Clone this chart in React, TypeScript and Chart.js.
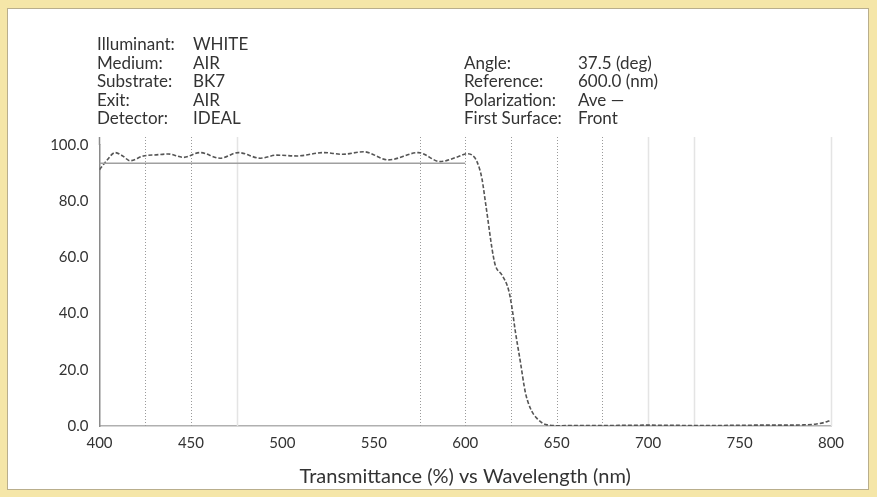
import { useEffect, useRef } from "react";
import { Chart, registerables } from "chart.js";

Chart.register(...registerables);

// ---- data ----
const wavelengths = [
  400, 404, 408.5, 412.5, 416.7, 424, 431, 437.6, 446, 455, 466, 476, 488, 497, 508, 522.5, 533, 544.4,
  558, 574.4, 586.3, 596, 601, 603.7, 606.4, 609.1, 611, 612.8, 614.6, 616.4, 620.1, 623.7, 625.6, 627.4,
  630.1, 632.8, 635.6, 639.2, 644.7, 651, 660, 680, 700, 720, 740, 760, 775, 785, 792, 796, 800,
];
const transmittance = [
  91.2, 94.5, 97.3, 96.2, 94.4, 96.1, 96.5, 96.8, 95.6, 97.3, 95.3, 97.3, 95.3, 96.4, 96.1, 97.3, 96.7, 97.6,
  94.7, 97.3, 94.1, 95.8, 96.9, 96.4, 94.1, 88.1, 79.8, 71.5, 63.2, 57.3, 53.7, 48.4, 41.9, 33.6,
  23.0, 12.2, 6.3, 2.7, 0.4, 0.1, 0.2, 0.2, 0.3, 0.2, 0.2, 0.3, 0.3, 0.4, 0.7, 1.2, 2.1,
];
const specWavelengths = [400, 600];
const specValues = [93.5, 93.5];

const dottedGrid = [425, 450, 575, 600, 625, 650, 675];
const lightGrid = [475, 700, 725, 800];

const xTickMin = 400;
const xTickMax = 800;
const xTickStep = 50;
const yTickMin = 0;
const yTickMax = 100;
const yTickStep = 20;

const xTitle = "Transmittance (%) vs Wavelength (nm)";

const headerLeftKeys = ["Illuminant:", "Medium:", "Substrate:", "Exit:", "Detector:"];
const headerLeftVals = ["WHITE", "AIR", "BK7", "AIR", "IDEAL"];
const headerRightKeys = ["Angle:", "Reference:", "Polarization:", "First Surface:"];
const headerRightVals = ["37.5 (deg)", "600.0 (nm)", "Ave \u2014", "Front"];

const FONT = "Lato, 'Open Sans', sans-serif";
const TEXT = "#333333";

const gridPlugin = {
  id: "wlGrid",
  beforeDatasetsDraw(chart: any) {
    const { ctx, chartArea, scales } = chart;
    const x = scales.x;
    ctx.save();
    const top = chartArea.top - 8;
    const bottom = chartArea.bottom;
    lightGrid.forEach((v) => {
      const px = Math.round(x.getPixelForValue(v)) + 0.5;
      ctx.strokeStyle = "#e4e4e4";
      ctx.lineWidth = 1.5;
      ctx.setLineDash([]);
      ctx.beginPath();
      ctx.moveTo(px, top);
      ctx.lineTo(px, bottom);
      ctx.stroke();
    });
    dottedGrid.forEach((v) => {
      const px = Math.round(x.getPixelForValue(v)) + 0.5;
      ctx.strokeStyle = "#9a9a9a";
      ctx.lineWidth = 1;
      ctx.setLineDash([1, 2]);
      ctx.beginPath();
      ctx.moveTo(px, top);
      ctx.lineTo(px, bottom);
      ctx.stroke();
    });
    // left axis extension above 100
    const lx = chartArea.left;
    ctx.setLineDash([]);
    ctx.strokeStyle = "#8a8a8a";
    ctx.lineWidth = 1.5;
    ctx.beginPath();
    ctx.moveTo(lx, top);
    ctx.lineTo(lx, chartArea.top);
    ctx.stroke();
    ctx.restore();
  },
};

export default function App() {
  const ref = useRef<HTMLCanvasElement>(null);

  useEffect(() => {
    const curve = wavelengths.map((w, i) => ({ x: w, y: transmittance[i] }));
    const spec = specWavelengths.map((w, i) => ({ x: w, y: specValues[i] }));
    const chart = new Chart(ref.current as HTMLCanvasElement, {
      type: "line",
      data: {
        datasets: [
          {
            data: spec,
            borderColor: "#a0a0a0",
            borderWidth: 1.5,
            pointRadius: 0,
            fill: false,
          },
          {
            data: curve,
            borderColor: "#555555",
            borderWidth: 1.6,
            borderDash: [4, 2],
            pointRadius: 0,
            fill: false,
            cubicInterpolationMode: "monotone",
          },
        ],
      },
      options: {
        responsive: false,
        animation: false,
        devicePixelRatio: 1,
        layout: { padding: { left: 0, right: 46, top: 145, bottom: 0 } },
        plugins: { legend: { display: false }, tooltip: { enabled: false } },
        scales: {
          x: {
            type: "linear",
            min: xTickMin,
            max: xTickMax,
            ticks: {
              stepSize: xTickStep,
              padding: 8,
              color: TEXT,
              font: { family: FONT, size: 15 },
              maxRotation: 0,
              autoSkip: false,
            },
            grid: { display: false, drawTicks: false },
            border: { display: true, color: "#b0b0b0", width: 1.5 },
            title: {
              display: true,
              text: xTitle,
              color: TEXT,
              font: { family: FONT, size: 20 },
              padding: { top: 0, bottom: 8 },
            },
            afterFit: (s: any) => {
              s.height = 71;
            },
          },
          y: {
            min: yTickMin,
            max: yTickMax,
            ticks: {
              stepSize: yTickStep,
              padding: 11,
              color: TEXT,
              font: { family: FONT, size: 15 },
              callback: (v: any) => Number(v).toFixed(1),
            },
            grid: { display: false, drawTicks: false },
            border: { display: true, color: "#8a8a8a", width: 1.5 },
            afterFit: (s: any) => {
              s.width = 99.5;
            },
          },
        },
      },
      plugins: [gridPlugin],
    });
    return () => chart.destroy();
  }, []);

  const rowH = 18.5;
  const textStyle = {
    position: "absolute" as const,
    fontFamily: FONT,
    fontSize: 17,
    color: TEXT,
    lineHeight: `${rowH}px`,
    whiteSpace: "nowrap" as const,
  };

  return (
    <div
      style={{
        position: "fixed",
        left: 0,
        top: 0,
        width: 877,
        height: 497,
        background: "#f5e6a8",
        overflow: "hidden",
      }}
    >
      <div
        style={{
          position: "absolute",
          left: 7,
          top: 8,
          width: 860,
          height: 480,
          background: "#ffffff",
          border: "1px solid #b9ae8c",
        }}
      />
      <canvas
        ref={ref}
        width={877}
        height={497}
        style={{ position: "absolute", left: 0, top: 0, width: 877, height: 497 }}
      />
      {headerLeftKeys.map((k, i) => (
        <div key={"lk" + i} style={{ ...textStyle, left: 97, top: 35 + i * rowH }}>
          {k}
        </div>
      ))}
      {headerLeftVals.map((v, i) => (
        <div key={"lv" + i} style={{ ...textStyle, left: 193, top: 35 + i * rowH }}>
          {v}
        </div>
      ))}
      {headerRightKeys.map((k, i) => (
        <div key={"rk" + i} style={{ ...textStyle, left: 464, top: 35 + (i + 1) * rowH }}>
          {k}
        </div>
      ))}
      {headerRightVals.map((v, i) => (
        <div key={"rv" + i} style={{ ...textStyle, left: 578, top: 35 + (i + 1) * rowH }}>
          {v}
        </div>
      ))}
    </div>
  );
}
